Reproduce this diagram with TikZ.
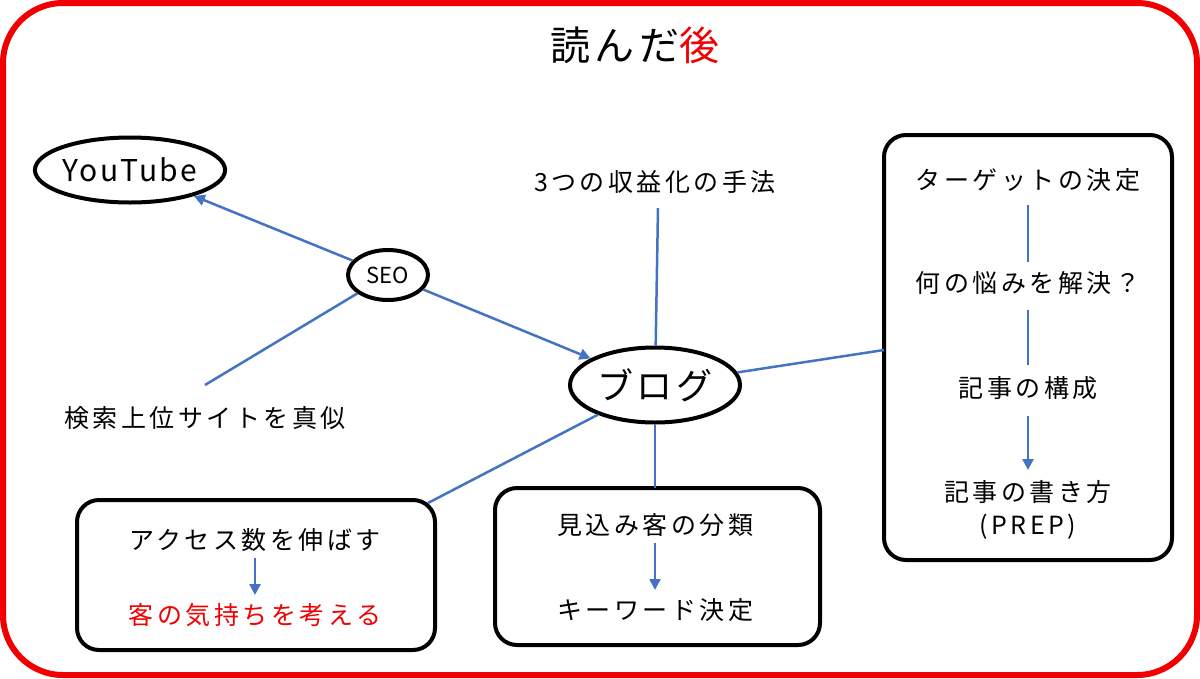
\documentclass[tikz,border=0pt]{standalone}
\usepackage{fontspec}
\setmainfont{Noto Sans CJK JP}
\usetikzlibrary{shapes.geometric,arrows.meta}
\definecolor{bl}{HTML}{4472C4}
\definecolor{rd}{HTML}{F00000}
\begin{document}
\begin{tikzpicture}[x=1pt,y=-1pt,
 t/.style={font=\fontsize{25}{29}\selectfont\addfontfeatures{LetterSpace=14},inner sep=0pt},
 el/.style={ellipse,draw,line width=4pt,inner sep=0pt},
 bx/.style={draw,line width=4pt,rounded corners=22pt},
 cn/.style={bl,line width=2.5pt},
 ar/.style={cn,-{Triangle[length=11pt,width=11pt]}}]
\useasboundingbox (0,0) rectangle (1200,678);
\draw[rd,line width=6pt,rounded corners=60pt] (3,3) rectangle (1197,675);
\node[font=\fontsize{40}{44}\selectfont\addfontfeatures{LetterSpace=12}] (title) at (635,45) {読んだ\textcolor{rd}{後}};
\node[el,minimum width=185pt,minimum height=65pt,font=\fontsize{30}{34}\selectfont\addfontfeatures{LetterSpace=8}] (yt) at (130,170) {YouTube};
\node[el,minimum width=80pt,minimum height=50pt,font=\fontsize{22}{26}\selectfont] (seo) at (388,275) {SEO};
\node[el,minimum width=170pt,minimum height=75pt,font=\fontsize{36}{40}\selectfont\addfontfeatures{LetterSpace=10}] (blog) at (655,385) {ブログ};
\node[t] (rev) at (655,182) {3つの収益化の手法};
\node[t] (mane) at (205,418) {検索上位サイトを真似};
\coordinate (maneT) at (205,385);
\draw[bx] (884,135) rectangle (1172,560);
\node[t] (r1) at (1028,180) {ターゲットの決定};
\node[t] (r2) at (1028,283) {何の悩みを解決？};
\node[t] (r3) at (1028,388) {記事の構成};
\node[t] (r4) at (1028,492) {記事の書き方};
\node[t] (r5) at (1028,527) {(PREP)};
\draw[cn] (1028,205) -- (1028,262);
\draw[cn] (1028,310) -- (1028,365);
\draw[ar] (r3) ++(0,28) -- (1028,470);
\draw[bx] (77,500) rectangle (435,650);
\node[t] (l1) at (255,540) {アクセス数を伸ばす};
\node[t,text=rd] (l2) at (255,615) {客の気持ちを考える};
\draw[ar] (l1) ++(0,18) -- (255,595);
\draw[bx] (495,488) rectangle (820,645);
\node[t] (m1) at (655,525) {見込み客の分類};
\node[t] (m2) at (655,610) {キーワード決定};
\draw[ar] (m1) ++(0,18) -- (655,590);
\coordinate (rb) at (884,350);
\coordinate (lb) at (428,503);
\coordinate (mb) at (655,488);
\coordinate (revB) at (658,208);
\draw[ar] (seo) -- (yt);
\draw[ar] (seo) -- (blog);
\draw[cn] (seo) -- (maneT);
\draw[cn] (revB) -- (blog);
\draw[cn] (blog) -- (rb);
\draw[cn] (blog) -- (lb);
\draw[cn] (blog) -- (mb);
\end{tikzpicture}
\end{document}
